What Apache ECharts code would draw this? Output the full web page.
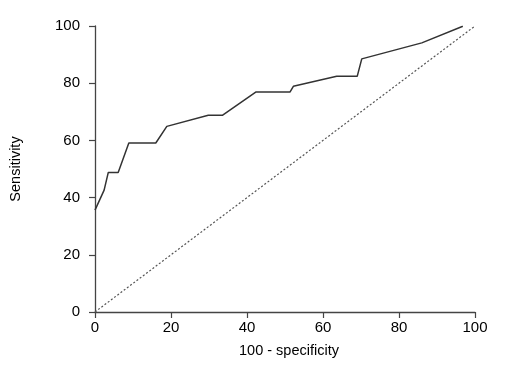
<!DOCTYPE html>
<html><head><meta charset="utf-8">
<script src="https://cdn.jsdelivr.net/npm/echarts@6/dist/echarts.min.js"></script>
<style>html,body{margin:0;padding:0;background:#fff}#c{width:509px;height:370px}</style>
</head><body><div id="c"></div>
<script>
var fprValues  = [0, 2.4, 3.5, 6.1, 8.9, 16.0, 18.9, 29.8, 33.6, 42.3, 51.3, 52.2, 63.6, 69.0, 70.2, 86.0, 96.8];
var sensValues = [35.6, 42.6, 48.8, 48.8, 59.1, 59.1, 64.9, 68.8, 68.8, 76.9, 76.9, 78.9, 82.4, 82.4, 88.5, 94.1, 99.9];
var diagX = [0, 100];
var diagY = [0, 100];
var xTicks = [0, 20, 40, 60, 80, 100];
var yTicks = [0, 20, 40, 60, 80, 100];

var rocData = fprValues.map(function (x, i) { return [x, sensValues[i]]; });
var diagData = diagX.map(function (x, i) { return [x, diagY[i]]; });
var font = 'Liberation Sans, Arial, Helvetica, sans-serif';
var chart = echarts.init(document.getElementById('c'), null, {renderer: 'canvas'});
chart.setOption({
  animation: false,
  backgroundColor: '#fff',
  grid: {left: 95, right: 34, top: 26, bottom: 58},
  xAxis: {
    type: 'value', min: xTicks[0], max: xTicks[xTicks.length - 1], interval: 20,
    name: '100 - specificity', nameLocation: 'middle', nameGap: 31,
    nameTextStyle: {fontFamily: font, fontSize: 14.5, color: '#000', padding: [0, 0, 0, 8]},
    axisLine: {lineStyle: {color: '#444', width: 1.3}},
    axisTick: {length: 6, lineStyle: {color: '#444', width: 1.2}},
    axisLabel: {fontFamily: font, fontSize: 15, color: '#000', margin: 8},
    splitLine: {show: false}
  },
  yAxis: {
    type: 'value', min: yTicks[0], max: yTicks[yTicks.length - 1], interval: 20,
    name: 'Sensitivity', nameLocation: 'middle', nameGap: 72,
    nameTextStyle: {fontFamily: font, fontSize: 14.5, color: '#000'},
    axisLine: {show: true, lineStyle: {color: '#444', width: 1.3}},
    axisTick: {show: true, length: 6, lineStyle: {color: '#444', width: 1.2}},
    axisLabel: {fontFamily: font, fontSize: 15, color: '#000', margin: 15},
    splitLine: {show: false}
  },
  series: [
    {type: 'line', data: diagData, showSymbol: false, silent: true,
     lineStyle: {color: '#555', width: 1.2, type: [2, 2]}},
    {type: 'line', data: rocData, showSymbol: false, silent: true,
     lineStyle: {color: '#333', width: 1.5}}
  ]
});
</script></body></html>
